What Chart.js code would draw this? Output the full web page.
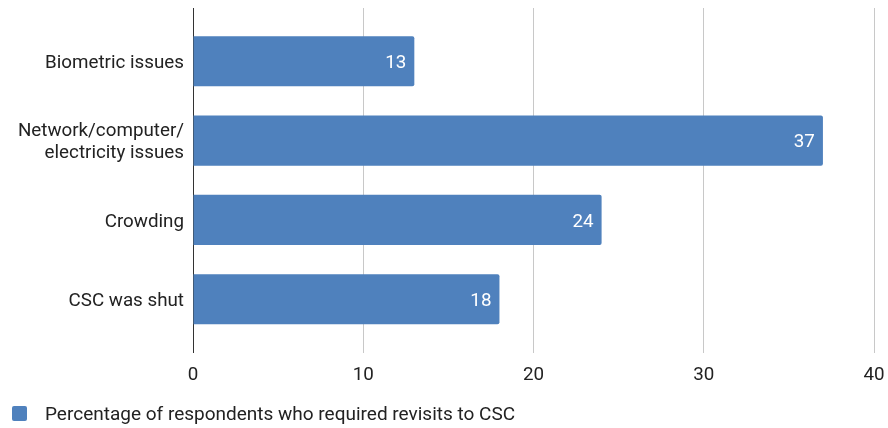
<!DOCTYPE html>
<html>
<head>
<meta charset="utf-8">
<script src="https://cdn.jsdelivr.net/npm/chart.js@4/dist/chart.umd.min.js"></script>
<style>
html,body{margin:0;padding:0;background:#fff;}
#wrap{width:888px;height:428px;position:relative;}
#legend{position:absolute;left:12px;top:402px;height:22px;display:flex;align-items:center;font:19px Roboto,"Noto Sans",sans-serif;color:#222;white-space:nowrap;}
#legend .box{display:inline-block;width:15px;height:15px;background:#4f81bd;border-radius:2px;margin-right:18px;}
</style>
</head>
<body>
<div id="wrap"><canvas id="c"></canvas><div id="legend"></div></div>
<script>
const categories = ['Biometric issues', ['Network/computer/', 'electricity issues'], 'Crowding', 'CSC was shut'];
const values = [13, 37, 24, 18];
const xTicks = [0, 10, 20, 30, 40];
const seriesName = 'Percentage of respondents who required revisits to CSC';

const FONT = 'Roboto, "Noto Sans", sans-serif';
const FS = 18.8;
const BAR = '#4f81bd';

const barLabels = {
  id: 'barLabels',
  afterDatasetsDraw(chart) {
    const ctx = chart.ctx;
    const meta = chart.getDatasetMeta(0);
    ctx.save();
    ctx.fillStyle = '#ffffff';
    ctx.font = FS + 'px ' + FONT;
    ctx.textAlign = 'right';
    ctx.textBaseline = 'middle';
    meta.data.forEach((el, i) => {
      ctx.fillText(String(values[i]), el.x - 8, el.y + 2);
    });
    ctx.restore();
  }
};

const chart = new Chart(document.getElementById('c'), {
  type: 'bar',
  data: {
    datasets: [{
      label: seriesName,
      data: values.map((v, i) => ({ x: v, y: i })),
      backgroundColor: BAR,
      borderWidth: 0,
      borderRadius: 2,
      borderSkipped: 'start',
      categoryPercentage: 1,
      barPercentage: 0.633
    }]
  },
  options: {
    indexAxis: 'y',
    responsive: true,
    maintainAspectRatio: false,
    animation: false,
    layout: { padding: { top: 8, right: 14, left: 0, bottom: 30 } },
    scales: {
      x: {
        type: 'linear',
        min: 0,
        max: 40,
        afterBuildTicks(scale) { scale.ticks = xTicks.map(v => ({ value: v })); },
        afterFit(scale) { scale.paddingLeft = 0; scale.paddingRight = 0; },
        grid: {
          color: (c) => (c.tick && c.tick.value === 0) ? '#333333' : '#c8c8c8',
          lineWidth: 1,
          drawTicks: false
        },
        border: { display: false },
        ticks: { color: '#222', font: { size: FS, family: FONT }, padding: 11 }
      },
      y: {
        type: 'linear',
        offset: false,
        bounds: 'data',
        reverse: true,
        min: -0.671,
        max: 3.683,
        afterBuildTicks(scale) { scale.ticks = categories.map((c, i) => ({ value: i })); },
        afterFit(scale) { scale.width = 193; scale.paddingTop = 0; scale.paddingBottom = 0; },
        grid: { display: false, drawTicks: false, offset: false },
        border: { display: false },
        ticks: {
          color: '#222',
          font: { size: FS, family: FONT, lineHeight: 1.17 },
          padding: 9,
          labelOffset: 2,
          callback: (v) => categories[v] !== undefined ? categories[v] : ''
        }
      }
    },
    plugins: {
      legend: { display: false },
      tooltip: { enabled: false }
    }
  },
  plugins: [barLabels]
});

const lg = document.getElementById('legend');
const box = document.createElement('span');
box.className = 'box';
box.style.background = chart.data.datasets[0].backgroundColor;
lg.appendChild(box);
lg.appendChild(document.createTextNode(chart.data.datasets[0].label));
</script>
</body>
</html>
